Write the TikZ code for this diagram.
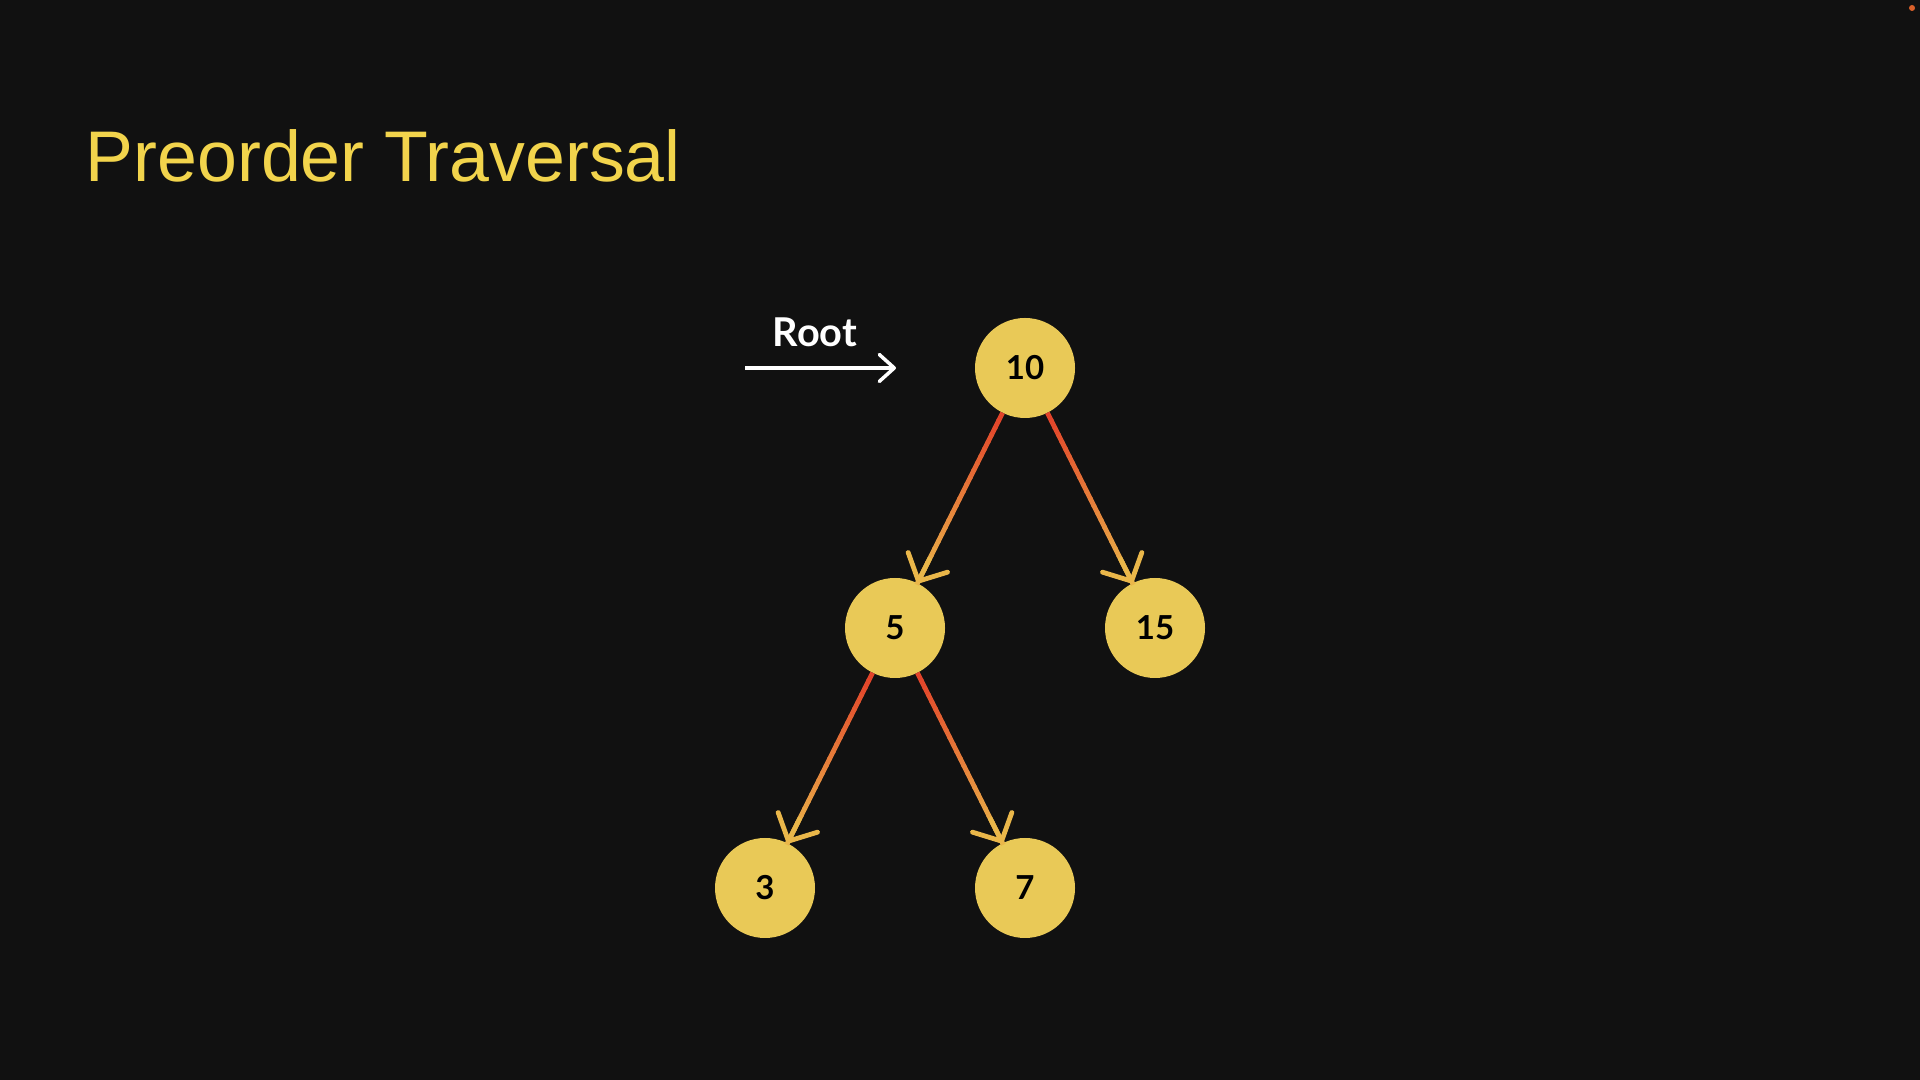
\documentclass[tikz,border=0pt]{standalone}
\usepackage{fontspec}
\setmainfont{Liberation Sans}
\newfontfamily\labelfont{Lato}
\usetikzlibrary{calc,arrows.meta}

\definecolor{bgcol}{HTML}{111111}
\definecolor{titlecol}{HTML}{F2D44C}
\definecolor{nodecol}{HTML}{E9C957}
\definecolor{edgestart}{HTML}{E2432A}
\definecolor{edgeend}{HTML}{EAB74A}
\definecolor{dotred}{HTML}{D9602A}

\newcommand{\gradedge}[2]{%
  \coordinate (gs) at ($(#1)!0.5cm!(#2)$);
  \coordinate (ge) at ($(#2)!0.5cm!(#1)$);
  \foreach \k in {0,...,23}{%
    \pgfmathtruncatemacro{\pct}{100*\k/23}%
    \pgfmathsetmacro{\ta}{\k/24}%
    \pgfmathsetmacro{\tb}{(\k+1.2)/24}%
    \draw[edgeseg,edgeend!\pct!edgestart] ($(gs)!\ta!(ge)$) -- ($(gs)!\tb!(ge)$);
  }
  \draw[edgetip] ($(gs)!0.85!(ge)$) -- (ge);
}

\begin{document}
\begin{tikzpicture}[
      treenode/.style={circle,fill=nodecol,minimum size=1cm,inner sep=0pt,
        text=black,font=\labelfont\bfseries\fontsize{9.4pt}{11pt}\selectfont},
      rootlabel/.style={anchor=base,text=white,font=\labelfont\bfseries\fontsize{11.3pt}{13pt}\selectfont},
      title/.style={anchor=base west,inner sep=0pt,text=titlecol,font=\fontsize{20.4pt}{24pt}\selectfont},
      edgeseg/.style={line width=0.048cm,line cap=butt},
      edgetip/.style={line width=0.048cm,edgeend,line cap=butt,
        -{Straight Barb[length=0.21cm,width=0.44cm,line cap=round,line join=round]}},
      rootarrow/.style={line width=0.035cm,white,
        -{Straight Barb[length=0.15cm,width=0.27cm,line cap=round,line join=round]}},
      ]
      \def\toprow{7.12}
      \def\midrow{4.52}
      \def\lowrow{1.92}
      \fill[bgcol] (0,0) rectangle (19.2,10.8);
      \useasboundingbox (0,0) rectangle (19.2,10.8);
      \fill[dotred] (19.12,10.72) circle (0.03);

      \node[title] (title) at (0.85,8.98) {Preorder Traversal};

      \node[treenode] (n10) at (10.25,\toprow) {10};
      \node[treenode] (n5) at (8.95,\midrow) {5};
      \node[treenode] (n15) at (11.55,\midrow) {15};
      \node[treenode] (n3) at (7.65,\lowrow) {3};
      \node[treenode] (n7) at (10.25,\lowrow) {7};

      \node[rootlabel] (rootlbl) at (8.15,7.33) {Root};
      \coordinate (rootstart) at (7.45,\toprow);
      \coordinate (roottip) at (8.96,\toprow);
      \draw[rootarrow] (rootstart) -- (roottip);

      \gradedge{n10}{n5}
      \gradedge{n10}{n15}
      \gradedge{n5}{n3}
      \gradedge{n5}{n7}
    \end{tikzpicture}
\end{document}
